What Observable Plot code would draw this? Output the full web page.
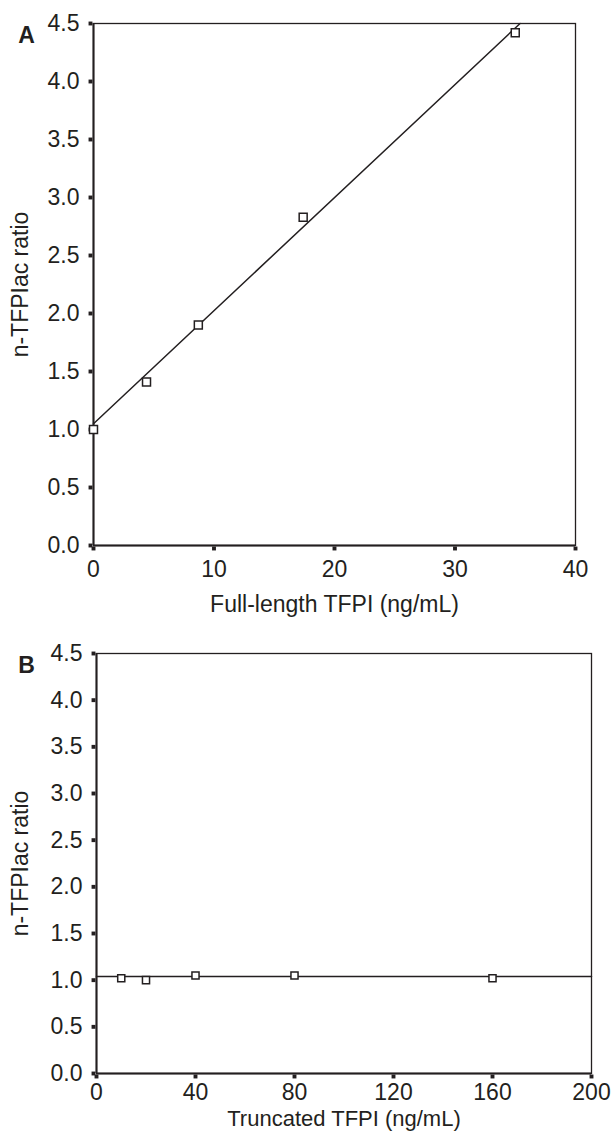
<!DOCTYPE html>
<html><head><meta charset="utf-8">
<script src="https://cdn.jsdelivr.net/npm/d3@7"></script>
<script src="https://cdn.jsdelivr.net/npm/@observablehq/plot@0.6"></script>
<style>body{margin:0;background:#fff} #chart{width:613px} #chart svg{display:block}</style>
</head><body><div id="chart"></div>
<script>
// Panel A: full-length TFPI
const fullLengthX = [0, 4.4, 8.7, 17.4, 35.0];
const ratioA = [1.00, 1.41, 1.90, 2.83, 4.42];
const fitAX = [0, 35.4];
const fitAY = [1.05, 4.5];
const xTicksA = [0, 10, 20, 30, 40];
// Panel B: truncated TFPI
const truncatedX = [10, 20, 40, 80, 160];
const ratioB = [1.02, 1.00, 1.05, 1.05, 1.02];
const fitBX = [0, 200];
const fitBY = [1.04, 1.04];
const xTicksB = [0, 40, 80, 120, 160, 200];
// shared
const yTicks = [0, 0.5, 1, 1.5, 2, 2.5, 3, 3.5, 4, 4.5];
const yTitle = "n-TFPIac ratio";

const ink = "#231f20";

function panel({letter, xs, ys, fx, fy, xTicks, xDomain, xTitle, titleDy, titleSize, xPad, height, mt, mb, ml, mr, r}) {
  const pts = xs.map((x, i) => ({x, y: ys[i]}));
  const fit = fx.map((x, i) => ({x, y: fy[i]}));
  return Plot.plot({
    width: 613, height,
    marginTop: mt, marginBottom: mb, marginLeft: ml, marginRight: mr,
    style: {fontFamily: "'Liberation Sans', Arial, sans-serif", fontSize: "23px", color: ink, background: "white", overflow: "visible"},
    x: {domain: xDomain},
    y: {domain: [0, 4.5]},
    marks: [
      Plot.frame({stroke: ink, strokeWidth: 1.3}),
      Plot.ruleX([xDomain[0]], {stroke: ink, strokeWidth: 2}),
      Plot.ruleY([0], {stroke: ink, strokeWidth: 2}),
      Plot.axisY({ticks: yTicks, tickSize: 0, tickPadding: 14, tickFormat: d3.format(".1f"), label: null}),
      Plot.axisX({ticks: xTicks, tickSize: 0, tickPadding: xPad, tickFormat: d => String(d), label: null}),
      Plot.dot(yTicks, {x: () => xDomain[0], y: d => d, dx: -3, symbol: "square", r: 2.2, fill: ink}),
      Plot.dot(xTicks, {x: d => d, y: () => 0, dy: 3, symbol: "square", r: 2.2, fill: ink}),
      Plot.line(fit, {x: "x", y: "y", stroke: ink, strokeWidth: 1.5}),
      Plot.dot(pts, {x: "x", y: "y", symbol: "square", r, stroke: ink, strokeWidth: 1.5, fill: "white"}),
      Plot.text([xTitle], {frameAnchor: "bottom", textAnchor: "middle", dy: titleDy, fontSize: titleSize, fill: ink}),
      Plot.text([yTitle], {frameAnchor: "left", textAnchor: "middle", rotate: -90, dx: -(ml - 20), fill: ink}),
      Plot.text([letter], {frameAnchor: "top-left", textAnchor: "middle", dx: -(ml - 26), dy: 3, fontWeight: "bold", fill: ink})
    ]
  });
}

const chart = document.getElementById("chart");
chart.append(panel({
  letter: "A", xs: fullLengthX, ys: ratioA, fx: fitAX, fy: fitAY,
  xTicks: xTicksA, xDomain: [0, 40], xTitle: "Full-length TFPI (ng/mL)", titleDy: 66, titleSize: 23, xPad: 15,
  height: 630, mt: 23, mb: 85, ml: 93, mr: 38, r: 4.5
}));
chart.append(panel({
  letter: "B", xs: truncatedX, ys: ratioB, fx: fitBX, fy: fitBY,
  xTicks: xTicksB, xDomain: [0, 200], xTitle: "Truncated TFPI (ng/mL)", titleDy: 52, titleSize: 22, xPad: 10,
  height: 513, mt: 23, mb: 70, ml: 96, mr: 22, r: 4
}));
</script>
</body></html>
